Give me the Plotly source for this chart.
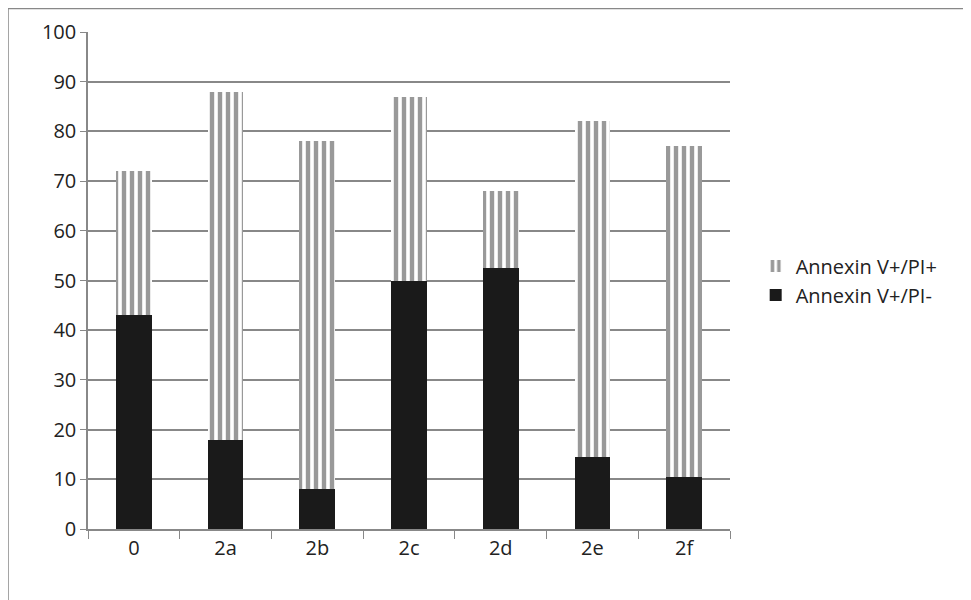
import plotly.graph_objects as go

categories = ['0', '2a', '2b', '2c', '2d', '2e', '2f']
pi_neg = [43, 18, 8, 50, 52.5, 14.5, 10.5]
pi_pos = [29, 70, 70, 37, 15.5, 67.5, 66.5]

L, R, T, B = 80, 249, 24, 79
pw, ph = 971 - 8 - L - R, 600 - 8 - T - B

fig = go.Figure()
fig.add_trace(go.Bar(x=categories, y=pi_neg, name='Annexin V+/PI-',
                     marker=dict(color='#1a1a1a', line=dict(width=0))))
fig.add_trace(go.Bar(x=categories, y=pi_pos, name='Annexin V+/PI+',
                     marker=dict(color='white', line=dict(width=0),
                                 pattern=dict(shape='|', fgcolor='#333333', bgcolor='white',
                                              size=8, solidity=0.55))))

fig.update_layout(
    barmode='stack', bargap=0.61, width=971, height=600,
    paper_bgcolor='white', plot_bgcolor='white',
    margin=dict(l=L, r=R, t=T, b=B, autoexpand=False),
    font=dict(family='Open Sans, Calibri, sans-serif', size=20, color='#222'),
    legend=dict(x=1.04, y=0.5, yanchor='middle', traceorder='reversed',
                font=dict(size=20), itemsizing='constant'),
    shapes=[dict(type='rect', xref='paper', yref='paper', x0=-(L - 1) / pw, x1=1 + (R - 1) / pw,
                 y0=-(B - 1) / ph, y1=1 + (T - 1) / ph, line=dict(color='#888', width=1.5))],
)
fig.update_yaxes(range=[0, 100], dtick=10, showgrid=True, gridcolor='#888', gridwidth=1.5,
                 showline=True, linecolor='#888', linewidth=1.5, ticks='outside',
                 ticklen=6, tickcolor='#888', zeroline=False)
fig.update_xaxes(showline=True, linecolor='#888', linewidth=1.5, ticks='outside',
                 ticklen=8, tickcolor='#888', tickson='boundaries')
fig.write_html('out.html')
